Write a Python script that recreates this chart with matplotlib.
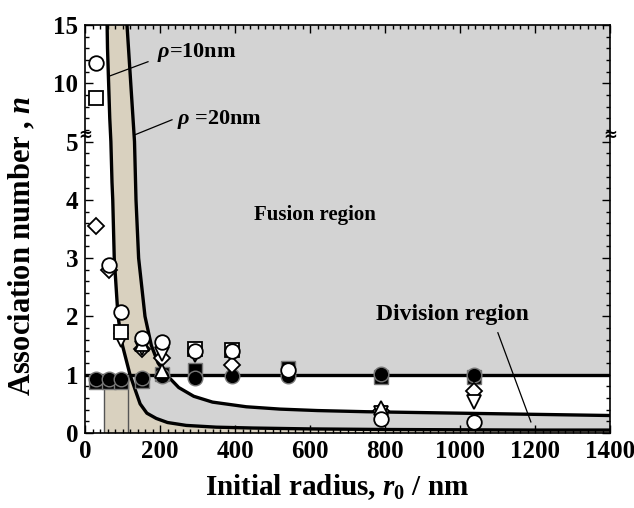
import numpy as np
import matplotlib
matplotlib.use('Agg')
import matplotlib.pyplot as plt
from matplotlib.ticker import FixedLocator, FixedFormatter

plt.rcParams['font.family'] = 'Liberation Serif'
plt.rcParams['font.weight'] = 'bold'
plt.rcParams['mathtext.fontset'] = 'custom'
plt.rcParams['mathtext.rm'] = 'Liberation Serif:bold'
plt.rcParams['mathtext.it'] = 'Liberation Serif:italic:bold'
plt.rcParams['mathtext.bf'] = 'Liberation Serif:bold'

# boundary curves (r0 in nm, n)
r_rho10 = [59, 60, 63, 66, 69, 72, 74, 78, 88, 100, 120, 135, 147, 165, 190, 220, 270, 350, 450, 600, 800, 1000, 1200, 1400]
n_rho10 = [15, 13, 10, 7, 5, 4.3, 4, 3, 2, 1.5, 1.0, 0.72, 0.5, 0.34, 0.25, 0.18, 0.13, 0.10, 0.085, 0.07, 0.06, 0.055, 0.05, 0.05]
r_rho20 = [112, 116, 122, 128, 132, 136, 143, 160, 177, 195, 217, 250, 290, 340, 430, 520, 620, 750, 900, 1100, 1400]
n_rho20 = [15, 13, 10, 7, 5, 4, 3, 2, 1.5, 1.2, 1.0, 0.78, 0.63, 0.53, 0.45, 0.41, 0.385, 0.365, 0.35, 0.33, 0.3]
r_left_edge = 51
r_mid_line = 115

# measured association numbers
nan = np.nan
r0 = [30, 63, 95, 152, 205, 292, 393, 542, 790, 1038]
filled_square = [0.87, 0.87, 0.87, 0.90, 1.02, 1.08, nan, 1.12, 0.96, 0.96]
filled_circle = [0.93, 0.93, 0.93, 0.94, 0.98, 0.94, 0.98, 0.97, 1.01, 1.00]
open_diamond = [3.55, 2.80, nan, 1.44, 1.29, nan, 1.17, nan, 0.38, 0.72]
open_tri_down = [nan, nan, 1.60, 1.45, 1.36, 1.33, nan, nan, 0.35, 0.53]
open_tri_up = [nan, nan, nan, 1.52, 1.07, nan, nan, nan, 0.43, nan]
open_square = [8.7, nan, 1.73, nan, nan, 1.44, 1.42, nan, nan, nan]
open_circle = [11.7, 2.88, 2.08, 1.63, 1.56, 1.41, 1.40, 1.08, 0.24, 0.19]

x_ticks = [0, 200, 400, 600, 800, 1000, 1200, 1400]
y_ticks = [0, 1, 2, 3, 4, 5, 10, 15]

GRAY = '#d3d3d3'
TAN = '#d9d1bf'


def fwd(y):
    y = np.asarray(y, dtype=float)
    return np.where(y <= 5, y, 5 + (y - 5) * 0.2)


def inv(t):
    t = np.asarray(t, dtype=float)
    return np.where(t <= 5, t, 5 + (t - 5) * 5)


fig = plt.figure(figsize=(6.34, 5.08), dpi=100)
ax = fig.add_axes([85 / 634, 75 / 508, 525 / 634, 408 / 508])
ax.set_yscale('function', functions=(fwd, inv))

r10 = np.array(r_rho10, float)
n10 = np.array(n_rho10, float)
r20 = np.array(r_rho20, float)
n20 = np.array(n_rho20, float)
up10, lo10 = n10 >= 1, n10 <= 1
up20, lo20 = n20 >= 1, n20 <= 1

# fusion region (above n=1, right of rho=20 curve)
ax.fill(list(r20[up20]) + [1400, 1400], list(n20[up20]) + [1, 15], color=GRAY, lw=0, zorder=0)
# tan band between the curves above n=1
ax.fill(list(r10[up10]) + list(r20[up20][::-1]), list(n10[up10]) + list(n20[up20][::-1]),
        color=TAN, lw=0, zorder=0)
# division region between the curves below n=1
ax.fill(list(r10[lo10]) + list(r20[lo20][::-1]), list(n10[lo10]) + list(n20[lo20][::-1]),
        color=GRAY, lw=0, zorder=0)
# tan region under the rho=10 curve
ax.fill([r_left_edge, r_left_edge] + list(r10[lo10]) + [1400],
        [0, 1] + list(n10[lo10]) + [0], color=TAN, lw=0, zorder=0)

ax.plot([r_left_edge, r_left_edge], [0, 1], color='#555555', lw=1, zorder=1)
ax.plot([r_mid_line, r_mid_line], [0, 1], color='#555555', lw=1, zorder=1)

ax.plot(r10, n10, color='black', lw=2.4, zorder=2)
ax.plot(r20, n20, color='black', lw=2.4, zorder=2)
ax.plot([0, 1400], [1, 1], color='black', lw=2.4, zorder=2)

ms = 10.5
ax.plot(r0, filled_square, 's', ms=ms, mfc='black', mec='#777777', mew=1, zorder=3)
ax.plot(r0, filled_circle, 'o', ms=ms, mfc='black', mec='#777777', mew=1, zorder=3)
ax.plot(r0, open_diamond, 'D', ms=ms * 0.8, mfc='white', mec='black', mew=1.3, zorder=4)
ax.plot(r0, open_tri_down, 'v', ms=ms, mfc='white', mec='black', mew=1.3, zorder=4)
ax.plot(r0, open_tri_up, '^', ms=ms, mfc='white', mec='black', mew=1.3, zorder=4)
ax.plot(r0, open_square, 's', ms=ms, mfc='white', mec='black', mew=1.3, zorder=4)
ax.plot(r0, open_circle, 'o', ms=ms, mfc='white', mec='black', mew=1.3, zorder=5)

ax.set_xlim(0, 1400)
ax.set_ylim(0, 15)

# ticks
ax.xaxis.set_major_locator(FixedLocator(x_ticks))
ax.xaxis.set_major_formatter(FixedFormatter([str(v) for v in x_ticks]))
ax.xaxis.set_minor_locator(FixedLocator([v for v in range(20, 1400, 20) if v % 200]))
ax.yaxis.set_major_locator(FixedLocator(y_ticks))
ax.yaxis.set_major_formatter(FixedFormatter([str(v) for v in y_ticks]))
minor_y = [v / 5 for v in range(1, 25) if v % 5] + [6, 7, 8, 9, 11, 12, 13, 14]
ax.yaxis.set_minor_locator(FixedLocator(minor_y))
ax.tick_params(which='both', direction='in', top=True, right=True, labelsize=18, width=1)
ax.tick_params(which='major', length=6, pad=5)
ax.tick_params(which='minor', length=3)
for s in ax.spines.values():
    s.set_linewidth(1.2)

# axis break marks
for xa in (0, 1):
    ax.text(xa, 5.6, '\u2248', transform=ax.get_yaxis_transform(), ha='center', va='center',
            fontsize=12, fontfamily='DejaVu Sans', zorder=6, clip_on=False)

ax.set_xlabel(r'Initial radius, $r_0$ / nm', fontsize=21, fontweight='bold')
ax.set_ylabel(r'Association number , $n$', fontsize=22, fontweight='bold')
ax.xaxis.set_label_coords(0.48, -0.095)
ax.yaxis.set_label_coords(-0.09, 0.46)

# annotations
ax.text(192, 12.6, r'$\rho$=10nm', fontsize=16, fontweight='bold', va='center')
ax.plot([67, 168], [10.64, 11.85], color='black', lw=0.9, zorder=6)
ax.text(245, 6.87, r'$\rho$ =20nm', fontsize=16, fontweight='bold', va='center')
ax.plot([133, 232], [5.58, 6.87], color='black', lw=0.9, zorder=6)
ax.text(613, 3.74, 'Fusion region', fontsize=15, fontweight='bold', ha='center', va='center')
ax.text(981, 2.03, 'Division region', fontsize=17, fontweight='bold', ha='center', va='center')
ax.plot([1101, 1189], [1.72, 0.19], color='black', lw=0.9, zorder=6)

fig.savefig('out.png', dpi=100)
